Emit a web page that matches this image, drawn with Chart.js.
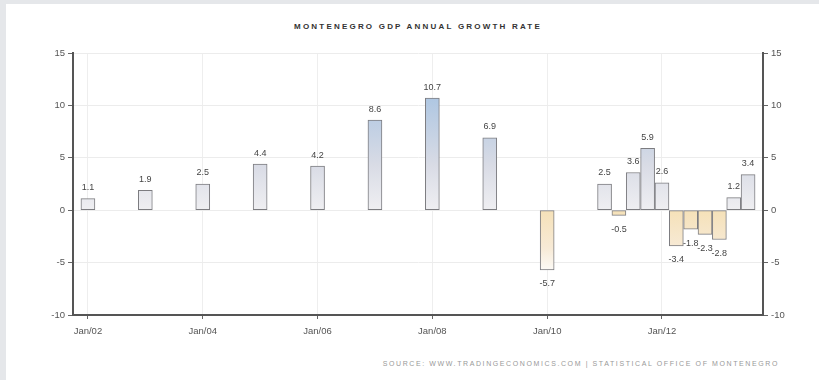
<!DOCTYPE html>
<html>
<head>
<meta charset="utf-8">
<script src="https://cdn.jsdelivr.net/npm/chart.js@4"></script>
<style>
  html, body { margin: 0; padding: 0; }
  body { width: 819px; height: 380px; background: #e5e7ea; position: relative; overflow: hidden; font-family: "Liberation Sans", Arial, sans-serif; }
  #panel { position: absolute; left: 6px; top: 4px; right: 0; bottom: 0; background: #fff; }
  #wrap { position: absolute; left: 0; top: 0; width: 819px; height: 380px; }
  #title { position: absolute; left: 0; width: 836px; top: 22px; text-align: center; font-size: 8px; font-weight: bold; letter-spacing: 2.2px; color: #333; }
  #source { position: absolute; right: 40px; top: 360px; font-size: 7px; letter-spacing: 1.6px; color: #999; }
</style>
</head>
<body>
<div id="panel"></div>
<div id="title">MONTENEGRO GDP ANNUAL GROWTH RATE</div>
<div id="source">SOURCE: WWW.TRADINGECONOMICS.COM | STATISTICAL OFFICE OF MONTENEGRO</div>
<div id="wrap"><canvas id="gdp" width="819" height="380"></canvas></div>
<script>
// yearly figures (Jan of each year)
const annualDates = [2002, 2003, 2004, 2005, 2006, 2007, 2008, 2009, 2010];
const annualGrowth = [1.1, 1.9, 2.5, 4.4, 4.2, 8.6, 10.7, 6.9, -5.7];

// quarterly figures from 2011 on
const quarterDates = [2011, 2011.25, 2011.5, 2011.75, 2012, 2012.25, 2012.5, 2012.75, 2013, 2013.25, 2013.5];
const quarterGrowth = [2.5, -0.5, 3.6, 5.9, 2.6, -3.4, -1.8, -2.3, -2.8, 1.2, 3.4];

const xTicks = [2002, 2004, 2006, 2008, 2010, 2012];
const yTicks = [-10, -5, 0, 5, 10, 15];

const points = annualDates.map((d, i) => ({ x: d, y: annualGrowth[i] }))
  .concat(quarterDates.map((d, i) => ({ x: d, y: quarterGrowth[i] })));

function barFill(ctx) {
  const chart = ctx.chart;
  if (!chart.chartArea || !ctx.raw) return '#dde3ec';
  const y = chart.scales.y;
  const g = chart.ctx;
  const zero = y.getPixelForValue(0);
  if (ctx.raw.y >= 0) {
    const grad = g.createLinearGradient(0, zero, 0, y.getPixelForValue(11));
    grad.addColorStop(0, '#efeff2');
    grad.addColorStop(0.4, '#d8dbe5');
    grad.addColorStop(1, '#adc6e2');
    return grad;
  }
  const grad = g.createLinearGradient(0, zero, 0, y.getPixelForValue(-6));
  grad.addColorStop(0, '#f5e1b8');
  grad.addColorStop(0.6, '#f7ead6');
  grad.addColorStop(1, '#fdfcfa');
  return grad;
}

// value labels above / below every bar
const valueLabels = {
  id: 'valueLabels',
  afterDatasetsDraw(chart) {
    const c = chart.ctx;
    const meta = chart.getDatasetMeta(0);
    c.save();
    c.font = '9px "Liberation Sans", Arial, sans-serif';
    c.fillStyle = '#444';
    c.textAlign = 'center';
    c.textBaseline = 'middle';
    meta.data.forEach((bar, i) => {
      const v = points[i].y;
      const ty = v >= 0 ? bar.y - 11 : bar.y + 14;
      c.fillText(v.toFixed(1), bar.x, ty);
    });
    c.restore();
  }
};

const tickFont = { size: 9.5, family: '"Liberation Sans", Arial, sans-serif' };

new Chart(document.getElementById('gdp'), {
  type: 'bar',
  data: {
    datasets: [{
      data: points,
      backgroundColor: barFill,
      borderColor: '#7c7c80',
      borderWidth: 1,
      borderSkipped: false,
      barThickness: 14
    }]
  },
  options: {
    responsive: false,
    animation: false,
    layout: { padding: { top: 53, right: 0, left: 0, bottom: 0 } },
    plugins: { legend: { display: false }, tooltip: { enabled: false } },
    scales: {
      x: {
        type: 'linear',
        offset: false,
        min: 2001.74,
        max: 2013.76,
        afterBuildTicks: s => { s.ticks = xTicks.map(v => ({ value: v })); },
        afterFit: s => { s.height = 65; },
        ticks: { font: tickFont, color: '#555', padding: 7, maxRotation: 0, callback: v => 'Jan/' + String(v).slice(2) },
        grid: { offset: false, color: '#eeeeee', tickColor: '#666', tickLength: 4 },
        border: { color: '#555', width: 2 }
      },
      y: {
        position: 'left',
        min: -10,
        max: 15,
        afterBuildTicks: s => { s.ticks = yTicks.map(v => ({ value: v })); },
        afterFit: s => { s.width = 73; },
        ticks: { font: tickFont, color: '#555', padding: 3 },
        grid: { color: '#ececec', tickColor: '#666', tickLength: 5 },
        border: { color: '#555', width: 2 }
      },
      y2: {
        position: 'right',
        min: -10,
        max: 15,
        afterBuildTicks: s => { s.ticks = yTicks.map(v => ({ value: v })); },
        afterFit: s => { s.width = 56; },
        ticks: { font: tickFont, color: '#555', padding: 3 },
        grid: { drawOnChartArea: false, tickColor: '#666', tickLength: 5 },
        border: { color: '#555', width: 2 }
      }
    }
  },
  plugins: [valueLabels]
});
</script>
</body>
</html>
